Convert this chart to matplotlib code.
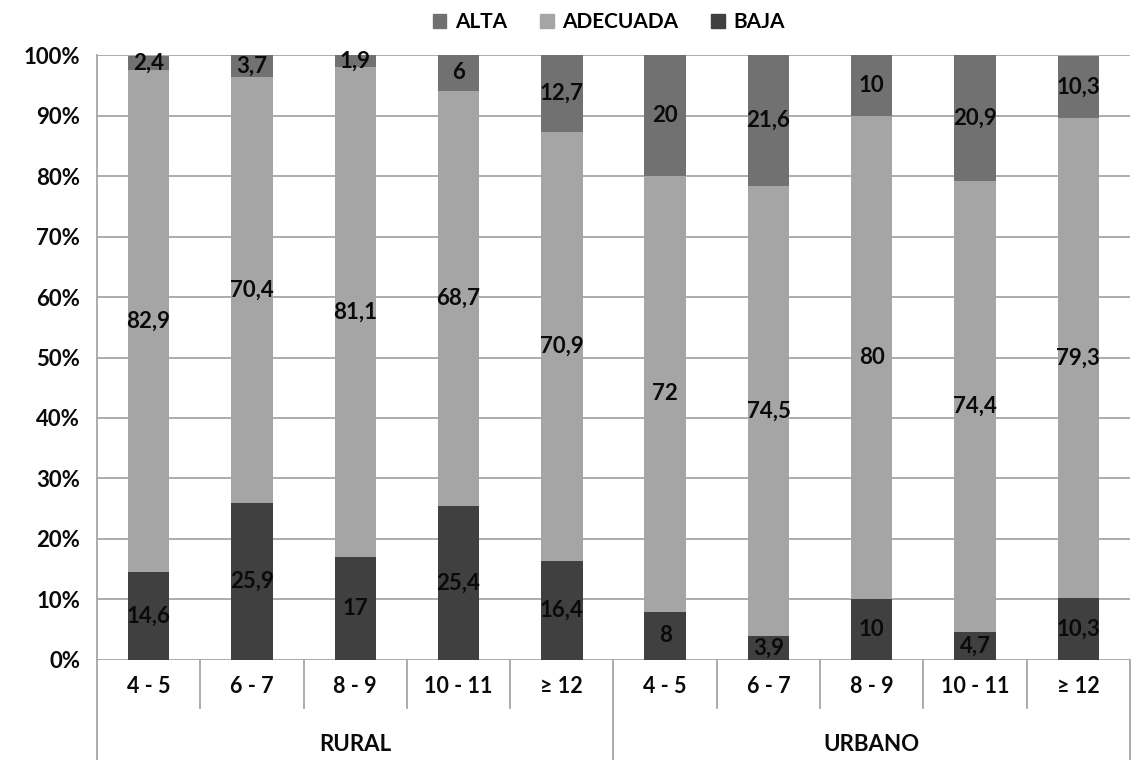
import numpy as np
import matplotlib.pyplot as plt
import matplotlib.transforms as mtransforms
from matplotlib.patches import Patch

plt.rcParams['font.family'] = ['Lato', 'DejaVu Sans']
plt.rcParams['font.weight'] = 'bold'

grupos = ['RURAL', 'URBANO']
edades = ['4 - 5', '6 - 7', '8 - 9', '10 - 11', '≥ 12']
categorias = edades + edades

baja = [14.6, 25.9, 17, 25.4, 16.4, 8, 3.9, 10, 4.7, 10.3]
adecuada = [82.9, 70.4, 81.1, 68.7, 70.9, 72, 74.5, 80, 74.4, 79.3]
alta = [2.4, 3.7, 1.9, 6, 12.7, 20, 21.6, 10, 20.9, 10.3]

series = [('BAJA', baja, '#404040'),
          ('ADECUADA', adecuada, '#a5a5a5'),
          ('ALTA', alta, '#717171')]

def fmt(v):
    s = ('%.1f' % v).rstrip('0').rstrip('.')
    return s.replace('.', ',')

fig = plt.figure(figsize=(11.38, 7.6), dpi=100)
ax = fig.add_axes([0.0852, 0.1316, 0.993 - 0.0852, 0.9276 - 0.1316])

n = len(categorias)
x = np.arange(n) + 0.5
bottom = np.zeros(n)
for nombre, vals, color in series:
    vals = np.array(vals, dtype=float)
    ax.bar(x, vals, width=0.4, bottom=bottom, color=color, zorder=3)
    for xi, b, v in zip(x, bottom, vals):
        ax.text(xi, b + v / 2, fmt(v), ha='center', va='center',
                fontsize=16, fontweight='bold', color='#0a0a0a', zorder=4)
    bottom += vals

ax.set_xlim(0, n)
ax.set_ylim(0, 100)
ax.set_yticks(np.arange(0, 101, 10))
ax.set_yticklabels(['%d%%' % v for v in range(0, 101, 10)], fontsize=16,
                   fontweight='bold', color='#0a0a0a')
ax.tick_params(axis='y', length=0, pad=12)
ax.set_xticks([])
ax.grid(axis='y', color='#a6a6a6', lw=1.3, zorder=0)
for s in ['top', 'right', 'bottom']:
    ax.spines[s].set_visible(False)
ax.spines['left'].set_color('#a6a6a6')
ax.spines['left'].set_linewidth(1.3)

# eje de categorias en dos filas
tr = mtransforms.blended_transform_factory(ax.transData, ax.transAxes)

def ay(py):
    return (660 - py) / 605.0

for i in range(n + 1):
    y0 = ay(760) if i % 5 == 0 else ay(708)
    ax.plot([i, i], [0, y0], transform=tr, color='#a6a6a6', lw=1.3,
            clip_on=False)
for xi, lab in zip(x, categorias):
    ax.text(xi, ay(687), lab, transform=tr, ha='center', va='center',
            fontsize=15.5, fontweight='bold', color='#0a0a0a')
for g, nombre in enumerate(grupos):
    ax.text(g * 5 + 2.5, ay(745), nombre, transform=tr, ha='center',
            va='center', fontsize=16, fontweight='bold', color='#0a0a0a')

handles = [Patch(color=c, label=nm) for nm, _, c in series[::-1]]
fig.legend(handles=handles, loc='center', bbox_to_anchor=(0.535, 0.971),
           ncol=3, frameon=False, fontsize=15, handlelength=0.65,
           handleheight=0.65, handletextpad=0.4, columnspacing=1.6)

fig.savefig('out.png', dpi=100, facecolor='white')
